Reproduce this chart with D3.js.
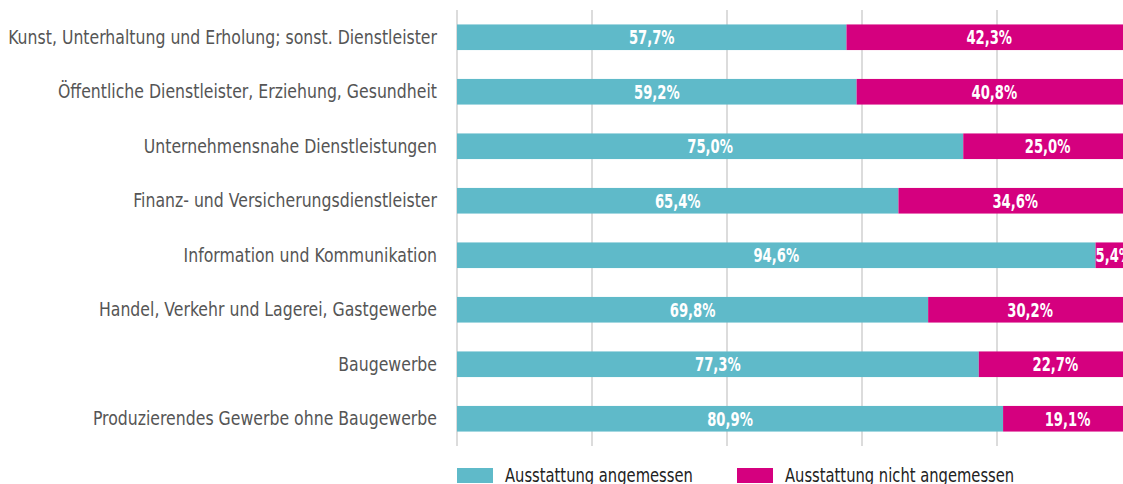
<!DOCTYPE html>
<html>
<head>
<meta charset="utf-8">
<script src="https://cdn.jsdelivr.net/npm/d3@7"></script>
<style>
  body { margin: 0; background: #fff; overflow: hidden; }
  svg { display: block; }
</style>
</head>
<body>
<svg id="chart" width="1123" height="484"></svg>
<script>
// Categories (top to bottom)
var categories = [
    "Kunst, Unterhaltung und Erholung; sonst. Dienstleister",
    "Öffentliche Dienstleister, Erziehung, Gesundheit",
    "Unternehmensnahe Dienstleistungen",
    "Finanz- und Versicherungsdienstleister",
    "Information und Kommunikation",
    "Handel, Verkehr und Lagerei, Gastgewerbe",
    "Baugewerbe",
    "Produzierendes Gewerbe ohne Baugewerbe"
];
// Series values in percent
var angemessen = [57.7, 59.2, 75.0, 65.4, 94.6, 69.8, 77.3, 80.9];
var nichtAngemessen = [42.3, 40.8, 25.0, 34.6, 5.4, 30.2, 22.7, 19.1];
var seriesNames = ["Ausstattung angemessen", "Ausstattung nicht angemessen"];
var colors = ["#5fbac9", "#d5007f"];
var gridTicks = [0, 20, 40, 60, 80, 100];

var svg = d3.select("#chart");
// no narrow font installed, so condensed DejaVu gets squeezed horizontally
var font = "'DejaVu Sans Condensed', sans-serif";

// Scales (the right end of the plot sits just past the window edge)
var x = d3.scaleLinear().domain([0, 100]).range([457, 1132]);
var y = d3.scaleBand().domain(categories).range([10, 446]).paddingInner(0.53).paddingOuter(0.265);

// Vertical grid lines
svg.selectAll(".grid")
    .data(gridTicks)
    .enter().append("line")
    .attr("class", "grid")
    .attr("x1", function(d) { return x(d); })
    .attr("x2", function(d) { return x(d); })
    .attr("y1", 10)
    .attr("y2", 446)
    .style("stroke", "#dcdcdc")
    .style("stroke-width", 2);

// Stack the two series
var rows = categories.map(function(c, i) {
    return { cat: c, a: angemessen[i], n: nichtAngemessen[i] };
});

var rowG = svg.selectAll(".row")
    .data(rows)
    .enter().append("g")
    .attr("class", "row");

rowG.append("rect")
    .attr("x", x(0))
    .attr("y", function(d) { return y(d.cat); })
    .attr("width", function(d) { return x(d.a) - x(0); })
    .attr("height", y.bandwidth())
    .style("fill", colors[0]);

rowG.append("rect")
    .attr("x", function(d) { return x(d.a); })
    .attr("y", function(d) { return y(d.cat); })
    .attr("width", function(d) { return x(d.a + d.n) - x(d.a); })
    .attr("height", y.bandwidth())
    .style("fill", colors[1]);

function fmt(v) { return v.toFixed(1).replace(".", ",") + "%"; }

// Value labels inside the bars
function valueLabel(cx, cy, txt) {
    return function(sel) {
        sel.append("text")
            .attr("transform", function(d) { return "translate(" + cx(d) + "," + cy(d) + ") scale(0.77,1)"; })
            .attr("dy", "0.36em")
            .attr("text-anchor", "middle")
            .style("fill", "#fff")
            .style("font-family", font)
            .style("font-weight", "bold")
            .style("font-size", "19px")
            .text(txt);
    };
}
function midY(d) { return y(d.cat) + y.bandwidth() / 2; }

rowG.call(valueLabel(function(d) { return (x(0) + x(d.a)) / 2; }, midY, function(d) { return fmt(d.a); }));
rowG.call(valueLabel(function(d) { return (x(d.a) + x(d.a + d.n)) / 2; }, midY, function(d) { return fmt(d.n); }));

// Category labels
svg.selectAll(".cat-label")
    .data(categories)
    .enter().append("text")
    .attr("class", "cat-label")
    .attr("transform", function(d) { return "translate(437," + (y(d) + y.bandwidth() / 2) + ") scale(0.92,1)"; })
    .attr("dy", "0.35em")
    .attr("text-anchor", "end")
    .style("fill", "#555")
    .style("font-family", font)
    .style("font-size", "19px")
    .text(function(d) { return d; });

// Legend
var legend = svg.selectAll(".legend")
    .data(seriesNames)
    .enter().append("g")
    .attr("class", "legend")
    .attr("transform", function(d, i) { return "translate(" + (457 + i * 280) + ",468)"; });

legend.append("rect")
    .attr("width", 36)
    .attr("height", 15)
    .style("fill", function(d, i) { return colors[i]; });

legend.append("text")
    .attr("transform", "translate(48,14) scale(0.82,1)")
    .style("fill", "#222")
    .style("font-family", font)
    .style("font-size", "20px")
    .text(function(d) { return d; });
</script>
</body>
</html>
